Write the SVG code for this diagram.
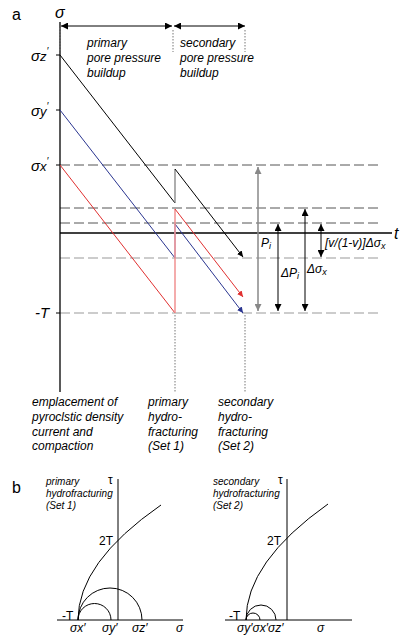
<svg xmlns="http://www.w3.org/2000/svg" width="410" height="642" viewBox="0 0 410 642">
<style>
text{font-family:"Liberation Sans",Arial,sans-serif;fill:#000}
.it{font-style:italic}
.lbl{font-size:12px;font-style:italic}
.sm{font-size:10px;font-style:italic}
.ax{stroke:#000;stroke-width:1.3;fill:none}
.dk{stroke:#555;stroke-width:1;stroke-dasharray:10,4;fill:none}
.lt{stroke:#999;stroke-width:1;stroke-dasharray:10,4;fill:none}
.dot{stroke:#777;stroke-width:1;stroke-dasharray:1.5,1.5;fill:none}
.th{stroke:#000;stroke-width:1;fill:none}
</style>
<defs>
<marker id="ah" viewBox="0 0 10 10" refX="10" refY="5" markerWidth="7" markerHeight="7" markerUnits="userSpaceOnUse" orient="auto-start-reverse"><path d="M0,0 L10,5 L0,10 z" fill="#000"/></marker>
<marker id="ahg" viewBox="0 0 10 10" refX="10" refY="5" markerWidth="7" markerHeight="7" markerUnits="userSpaceOnUse" orient="auto-start-reverse"><path d="M0,0 L10,5 L0,10 z" fill="#888"/></marker>
<marker id="ahr" viewBox="0 0 10 10" refX="10" refY="5" markerWidth="6" markerHeight="6" markerUnits="userSpaceOnUse" orient="auto"><path d="M0,0 L10,5 L0,10 z" fill="#e03030"/></marker>
<marker id="ahb" viewBox="0 0 10 10" refX="10" refY="5" markerWidth="6" markerHeight="6" markerUnits="userSpaceOnUse" orient="auto"><path d="M0,0 L10,5 L0,10 z" fill="#2a3590"/></marker>
<marker id="ahk" viewBox="0 0 10 10" refX="10" refY="5" markerWidth="6" markerHeight="6" markerUnits="userSpaceOnUse" orient="auto"><path d="M0,0 L10,5 L0,10 z" fill="#000"/></marker>
</defs>

<g id="panel-a">
<text x="12" y="20" font-size="16">a</text>
<text x="55" y="18" font-size="16" class="it">σ</text>
<text x="394" y="239" font-size="16" class="it">t</text>

<g id="dashed">
<line class="dk" x1="60" y1="165" x2="378" y2="165"/>
<line class="dk" x1="60" y1="208" x2="378" y2="208"/>
<line class="dk" x1="60" y1="223" x2="378" y2="223"/>
<line class="lt" x1="60" y1="258" x2="378" y2="258"/>
<line class="lt" x1="60" y1="313" x2="378" y2="313"/>
</g>

<g id="axes">
<line class="ax" x1="60" y1="22" x2="60" y2="392"/>
<line class="ax" x1="60" y1="233" x2="392" y2="233"/>
<line class="th" x1="56" y1="55" x2="60" y2="55"/>
<line class="th" x1="56" y1="110" x2="60" y2="110"/>
<line class="th" x1="56" y1="165" x2="60" y2="165"/>
<line class="th" x1="56" y1="313" x2="60" y2="313"/>
</g>

<g id="axis-labels">
<text x="31" y="61" font-size="15" class="it">σ<tspan font-size="13">z</tspan><tspan font-size="10" dy="-6">′</tspan></text>
<text x="31" y="116" font-size="15" class="it">σ<tspan font-size="13">y</tspan><tspan font-size="10" dy="-6">′</tspan></text>
<text x="31" y="171" font-size="15" class="it">σ<tspan font-size="13">x</tspan><tspan font-size="10" dy="-6">′</tspan></text>
<text x="35" y="318" font-size="15" class="it">-T</text>
</g>

<g id="phases">
<line class="dot" x1="60" y1="28" x2="60" y2="52"/>
<line class="dot" x1="173" y1="30" x2="173" y2="52"/>
<line class="dot" x1="245" y1="30" x2="245" y2="52"/>
<line class="th" x1="61" y1="26" x2="172" y2="26" marker-start="url(#ah)" marker-end="url(#ah)"/>
<line class="th" x1="174" y1="26" x2="245" y2="26" marker-start="url(#ah)" marker-end="url(#ah)"/>
<text class="lbl" x="87" y="47">primary</text>
<text class="lbl" x="87" y="62">pore pressure</text>
<text class="lbl" x="87" y="77">buildup</text>
<text class="lbl" x="180" y="47">secondary</text>
<text class="lbl" x="180" y="62">pore pressure</text>
<text class="lbl" x="180" y="77">buildup</text>
</g>

<g id="stress-paths">
<polyline points="60,55 175,203" stroke="#000" stroke-width="1" fill="none"/>
<line x1="175" y1="203" x2="175" y2="169" stroke="#777" stroke-width="1.2"/>
<line x1="175" y1="169" x2="243" y2="257" stroke="#000" stroke-width="1" marker-end="url(#ahk)"/>
<polyline points="60,110 175,258" stroke="#2a3590" stroke-width="1" fill="none"/>
<line x1="175" y1="258" x2="175" y2="224" stroke="#8890d0" stroke-width="1.2"/>
<line x1="175" y1="224" x2="243" y2="313" stroke="#2a3590" stroke-width="1" marker-end="url(#ahb)"/>
<polyline points="60,165 175,313" stroke="#e03030" stroke-width="1" fill="none"/>
<line x1="175" y1="313" x2="175" y2="209" stroke="#f09090" stroke-width="1.5"/>
<line x1="175" y1="209" x2="243" y2="297" stroke="#e03030" stroke-width="1" marker-end="url(#ahr)"/>
</g>

<g id="events">
<line class="dot" x1="175" y1="315" x2="175" y2="392"/>
<line class="dot" x1="245" y1="315" x2="245" y2="392"/>
<text class="lbl" x="32" y="406">emplacement of</text>
<text class="lbl" x="32" y="421">pyroclstic density</text>
<text class="lbl" x="32" y="436">current and</text>
<text class="lbl" x="32" y="450">compaction</text>
<text class="lbl" x="148" y="406">primary</text>
<text class="lbl" x="148" y="421">hydro-</text>
<text class="lbl" x="148" y="436">fracturing</text>
<text class="lbl" x="148" y="450">(Set 1)</text>
<text class="lbl" x="218" y="406">secondary</text>
<text class="lbl" x="218" y="421">hydro-</text>
<text class="lbl" x="218" y="436">fracturing</text>
<text class="lbl" x="218" y="450">(Set 2)</text>
</g>

<g id="measures">
<line x1="258" y1="167" x2="258" y2="311" stroke="#888" stroke-width="1.5" marker-start="url(#ahg)" marker-end="url(#ahg)"/>
<line class="th" x1="278" y1="224" x2="278" y2="311" marker-start="url(#ah)" marker-end="url(#ah)"/>
<line class="th" x1="305" y1="209" x2="305" y2="311" marker-start="url(#ah)" marker-end="url(#ah)"/>
<line class="th" x1="321" y1="224" x2="321" y2="257" marker-start="url(#ah)" marker-end="url(#ah)"/>
<text class="lbl" x="261" y="247">P<tspan font-size="9" dy="2">i</tspan></text>
<text class="lbl" x="281" y="277">ΔP<tspan font-size="9" dy="2">i</tspan></text>
<text class="lbl" x="307" y="273">Δσ<tspan font-size="9" dy="2">x</tspan></text>
<text class="lbl" x="325" y="247">[v/(1-v)]Δσ<tspan font-size="9" dy="2">x</tspan></text>
</g>
</g>

<g id="panel-b">
<text x="12" y="493" font-size="16">b</text>

<g id="mohr-1">
<text class="sm" x="46" y="485">primary</text>
<text class="sm" x="46" y="497">hydrofracturing</text>
<text class="sm" x="46" y="509">(Set 1)</text>
<text x="108" y="484" font-size="12">τ</text>
<line class="th" x1="118" y1="479" x2="118" y2="620"/>
<line class="th" x1="57" y1="620" x2="183" y2="620"/>
<path class="th" d="M78,620 A16.5,16.5 0 0 1 111,620"/>
<path class="th" d="M78,620 A32,32 0 0 1 142,620"/>
<path class="th" d="M78,620 Q78,562.5 161,505"/>
<text x="99" y="545" font-size="12">2T</text>
<text x="62" y="620" font-size="12">-T</text>
<text class="lbl" x="70" y="632">σx′</text>
<text class="lbl" x="102" y="632">σy′</text>
<text class="lbl" x="132" y="632">σz′</text>
<text class="lbl" x="176" y="632">σ</text>
</g>

<g id="mohr-2">
<text class="sm" x="213" y="485">secondary</text>
<text class="sm" x="213" y="497">hydrofracturing</text>
<text class="sm" x="213" y="509">(Set 2)</text>
<text x="278" y="484" font-size="12">τ</text>
<line class="th" x1="287" y1="479" x2="287" y2="620"/>
<line class="th" x1="225" y1="620" x2="352" y2="620"/>
<path class="th" d="M246,620 A7,7 0 0 1 260,620"/>
<path class="th" d="M246,620 A15,15 0 0 1 276,620"/>
<path class="th" d="M246,620 Q246,562 328,504"/>
<text x="267" y="545" font-size="12">2T</text>
<text x="229" y="620" font-size="12">-T</text>
<text class="lbl" x="237" y="632">σy′σx′σz′</text>
<text class="lbl" x="317" y="632">σ</text>
</g>
</g>
</svg>
